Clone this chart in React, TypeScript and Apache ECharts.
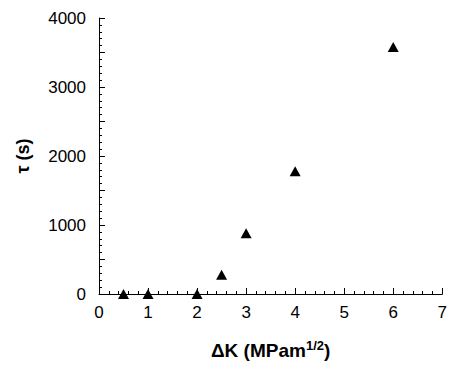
import React, { useEffect, useRef } from "react";
import * as echarts from "echarts";

const deltaK = [0.5, 1, 2, 2.5, 3, 4, 6];
const tau = [0, 0, 0, 280, 880, 1780, 3580];
const xTitle = "ΔK (MPam";
const xTitleSup = "1/2";
const yTitle = "τ (s)";

export default function App() {
  const ref = useRef<HTMLDivElement>(null);
  useEffect(() => {
    document.body.style.margin = "0";
    const chart = echarts.init(ref.current!, null, { renderer: "svg" });
    const font = "Liberation Sans, Arial, sans-serif";
    chart.setOption({
      animation: false,
      backgroundColor: "#ffffff",
      grid: { left: 99, right: 3, top: 18, bottom: 71, containLabel: false },
      xAxis: {
        type: "value",
        min: 0,
        max: 7,
        interval: 1,
        name: `{b|${xTitle}}{s|${xTitleSup}}{b|)}`,
        nameLocation: "middle",
        nameGap: 45,
        nameTextStyle: {
          rich: {
            b: { fontFamily: font, fontWeight: "bold", fontSize: 19, color: "#000", verticalAlign: "bottom", lineHeight: 21 },
            s: { fontFamily: font, fontWeight: "bold", fontSize: 13, color: "#000", verticalAlign: "top", lineHeight: 21 },
          },
        },
        axisLine: { show: true, onZero: false, lineStyle: { color: "#000", width: 1 } },
        axisTick: { show: true, inside: true, length: 6, lineStyle: { color: "#000", width: 1 } },
        minorTick: { show: true, splitNumber: 5, length: 3, lineStyle: { color: "#000", width: 1 } },
        axisLabel: { color: "#000", fontFamily: font, fontSize: 17, margin: 10 },
        splitLine: { show: false },
      },
      yAxis: {
        type: "value",
        min: 0,
        max: 4000,
        interval: 500,
        name: yTitle,
        nameLocation: "middle",
        nameRotate: 90,
        nameGap: 67,
        nameTextStyle: { fontFamily: font, fontWeight: "bold", fontSize: 18, color: "#000" },
        axisLine: { show: true, onZero: false, lineStyle: { color: "#000", width: 1 } },
        axisTick: { show: true, inside: true, length: 6, lineStyle: { color: "#000", width: 1 } },
        minorTick: { show: true, splitNumber: 5, length: 3, lineStyle: { color: "#000", width: 1 } },
        axisLabel: {
          color: "#000",
          fontFamily: font,
          fontSize: 17,
          margin: 13,
          formatter: (v: number) => (v % 1000 === 0 ? String(v) : ""),
        },
        splitLine: { show: false },
      },
      series: [
        {
          type: "scatter",
          data: deltaK.map((x, i) => [x, tau[i]]),
          symbol: "triangle",
          symbolSize: [11, 10],
          itemStyle: { color: "#000", opacity: 1 },
          clip: false,
        },
      ],
    });
    return () => chart.dispose();
  }, []);
  return <div ref={ref} style={{ width: 450, height: 365 }} />;
}
